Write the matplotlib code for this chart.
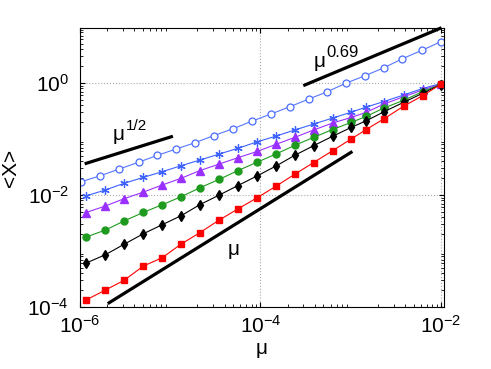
import matplotlib
matplotlib.use("Agg")
import matplotlib.pyplot as plt
import numpy as np

# x grid of the filled-marker series and of the open circles
mu_filled = [1.15e-6, 1.91e-6, 3.08e-6, 5.05e-6, 8.15e-6, 1.32e-5, 2.14e-5, 3.50e-5,
             5.60e-5, 9.27e-5, 1.49e-4, 2.40e-4, 3.88e-4, 6.31e-4, 1.02e-3, 1.49e-3,
             2.34e-3, 3.86e-3, 6.27e-3, 1.0e-2]
mu_open = [1.03e-6, 1.68e-6, 2.71e-6, 4.45e-6, 7.18e-6, 1.16e-5, 1.88e-5, 3.03e-5,
           4.98e-5, 8.09e-5, 1.30e-4, 2.12e-4, 3.44e-4, 5.51e-4, 8.79e-4, 1.44e-3,
           2.33e-3, 3.75e-3, 6.15e-3, 1.0e-2]

x_open = [0.0173, 0.0221, 0.0291, 0.0384, 0.0512, 0.0662, 0.0859, 0.115, 0.153, 0.209,
          0.279, 0.378, 0.518, 0.700, 0.989, 1.35, 1.87, 2.72, 3.84, 5.47]
x_star = [0.0096, 0.0123, 0.0162, 0.0207, 0.0261, 0.0334, 0.0422, 0.0540, 0.0682, 0.0895,
          0.113, 0.145, 0.185, 0.237, 0.303, 0.372, 0.468, 0.611, 0.798, 0.98]
x_tri = [0.00483, 0.00637, 0.00859, 0.0113, 0.0151, 0.0199, 0.0274, 0.0358, 0.0463, 0.0603,
         0.0804, 0.107, 0.145, 0.193, 0.244, 0.300, 0.422, 0.569, 0.750, 0.96]
x_green = [0.00176, 0.00237, 0.00344, 0.00491, 0.00671, 0.00933, 0.0135, 0.0191, 0.0272,
           0.0388, 0.0540, 0.0772, 0.107, 0.148, 0.199, 0.254, 0.358, 0.491, 0.700, 0.948]
x_black = [6.03e-4, 8.59e-4, 1.32e-3, 2.04e-3, 2.95e-3, 4.27e-3, 6.76e-3, 0.0100, 0.0147,
           0.0221, 0.0330, 0.0512, 0.0759, 0.112, 0.162, 0.212, 0.307, 0.452, 0.655, 0.94]
x_red = [1.32e-4, 2.01e-4, 3.00e-4, 5.40e-4, 7.59e-4, 1.33e-3, 2.14e-3, 3.58e-3, 5.62e-3,
         9.02e-3, 0.0144, 0.0235, 0.0380, 0.0618, 0.101, 0.148, 0.230, 0.385, 0.593, 0.953]

# guide lines (end points)
half_x, half_y = [1.17e-6, 1.03e-5], [0.0368, 0.110]
p69_x, p69_y = [3.1e-4, 9.8e-3], [0.921, 9.48]
lin_x, lin_y = [2.1e-6, 1.01e-3], [1.19e-4, 0.0579]

plt.rcParams["font.family"] = ["Liberation Sans", "DejaVu Sans"]
plt.rcParams["mathtext.fontset"] = "custom"
plt.rcParams["mathtext.rm"] = "Liberation Sans"
plt.rcParams["mathtext.it"] = "Liberation Sans"

fig = plt.figure(figsize=(4.91, 3.69), dpi=100)
ax = fig.add_axes([0.163, 0.168, 0.741, 0.756])

ax.loglog(mu_open, x_open, "-o", color="#5577ff", mfc="white", mec="#4a6cff", ms=5, lw=0.8, mew=0.9)
ax.loglog(mu_filled, x_star, "-", marker=(6, 2, 0), color="#3d62ff", ms=6, lw=0.8, mew=0.9)
ax.loglog(mu_filled, x_tri, "-^", color="#9a30ff", ms=5.5, lw=0.8)
ax.loglog(mu_filled, x_green, "-o", color="#1e9a1e", ms=5, lw=0.8)
ax.loglog(mu_filled, x_black, "-d", color="black", ms=5, lw=0.8)
ax.loglog(mu_filled, x_red, "-s", color="#ff0000", ms=4, lw=0.8)

ax.plot(half_x, half_y, "k-", lw=2.3)
ax.plot(p69_x, p69_y, "k-", lw=2.3, clip_on=False)
ax.plot(lin_x, lin_y, "k-", lw=2.3)

ax.text(2.27e-6, 0.096, "μ", fontsize=15, va="baseline")
ax.text(3.2e-6, 0.145, "1/2", fontsize=11, va="baseline")
ax.text(3.86e-4, 1.93, "μ", fontsize=15, va="baseline")
ax.text(5.4e-4, 2.91, "0.69", fontsize=12, va="baseline")
ax.text(4.3e-5, 8.5e-4, "μ", fontsize=15, va="baseline")

ax.set_xlim(1e-6, 1.08e-2)
ax.set_ylim(1e-4, 9.6)
ax.set_xticks([1e-6, 1e-4, 1e-2])
ax.set_xticklabels([r"$10^{-6}$", r"$10^{-4}$", r"$10^{-2}$"])
ax.set_yticks([1e-4, 1e-2, 1e0])
ax.set_yticklabels([r"$10^{-4}$", r"$10^{-2}$", r"$10^{0}$"])
ax.tick_params(which="both", direction="in", top=True, right=True, labelsize=15)
ax.tick_params(axis="x", pad=6)
ax.tick_params(axis="y", pad=8)
ax.tick_params(which="minor", length=2)
ax.grid(True, which="major", ls=":", color="#aaaaaa", lw=0.8)

ax.set_xlabel("μ", fontsize=15, labelpad=1)
ax.set_ylabel("<X>", fontsize=15, labelpad=5)

fig.savefig("out.png", dpi=100)
